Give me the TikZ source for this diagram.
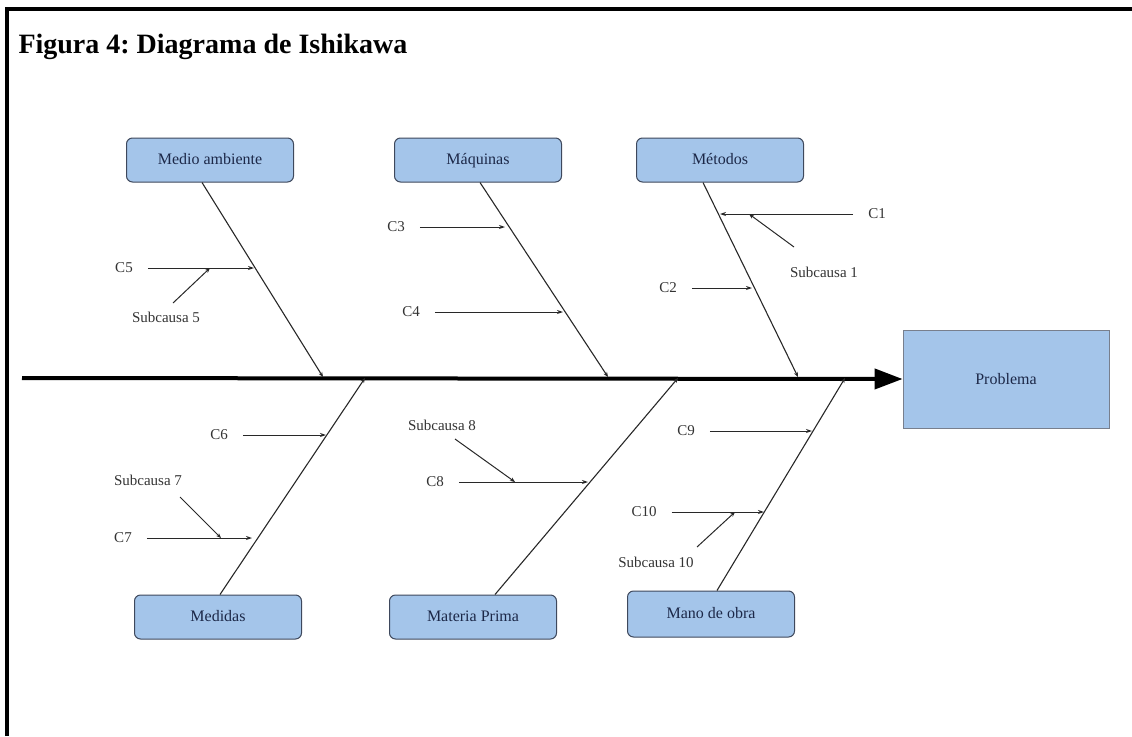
\documentclass[tikz,border=0pt]{standalone}
\usepackage{fontspec}
\setmainfont{Liberation Serif}
\usetikzlibrary{arrows.meta, calc}
\definecolor{BoxBlue}{RGB}{164, 197, 234}
\definecolor{BoxEdge}{RGB}{62, 72, 92}
\definecolor{BoxText}{RGB}{28, 40, 72}
\definecolor{LineGray}{RGB}{40, 40, 40}

\begin{document}
\begin{tikzpicture}[x=1pt, y=-1pt,
            category/.style={draw=BoxEdge, fill=BoxBlue, rounded corners=6pt, line width=1pt,
                             minimum width=167pt, minimum height=44pt, text=BoxText,
                             text height=11pt, text depth=3pt,
                             font=\fontsize{16}{19}\selectfont},
            effect/.style={draw=BoxEdge!70, fill=BoxBlue, line width=0.8pt,
                           minimum width=206pt, minimum height=98pt, text=BoxText,
                           font=\fontsize{16}{19}\selectfont},
            cname/.style={inner sep=0pt, text=black!80, font=\fontsize{15}{18}\selectfont},
            spine/.style={line width=4pt, -{Triangle[length=28pt, width=20pt]}},
            bone/.style={LineGray, line width=1.1pt, -{Stealth[length=5pt, width=4pt]}},
            cause/.style={LineGray, line width=1pt, shorten <=15pt, -{Stealth[length=6pt, width=4pt]}},
            subcause/.style={LineGray, line width=1pt, -{Stealth[length=5pt, width=4pt]}}
        ]
            \useasboundingbox (0,0) rectangle (1132,736);
            \draw[line width=4pt] (7,736) -- (7,9) -- (1132,9);

            \node[anchor=base west, font=\bfseries\fontsize{28}{32}\selectfont] (title) at (15,53)
                {\frenchspacing Figura 4: Diagrama de Ishikawa};

            \node[category] (env) at (210,160) {Medio ambiente};
            \node[category] (mach) at (478,160) {Máquinas};
            \node[category] (meth) at (720,160) {Métodos};
            \node[category] (meas) at (218,617) {Medidas};
            \node[category] (mat) at (473,617) {Materia Prima};
            \node[category, minimum height=46pt] (labor) at (711,614) {Mano de obra};
            \node[effect] (prob) at (1006,379) {Problema};

            \coordinate (tail) at (22,378);
            \coordinate (j1) at (323,377);
            \coordinate (j2) at (608,377);
            \coordinate (j3) at (798,377);
            \coordinate (j4) at (365,378);
            \coordinate (j5) at (678,378);
            \coordinate (j6) at (845,378);

            \draw[spine] (tail) -- (prob.west);

            \draw[bone] ([xshift=-8pt]env.south) -- (j1);
            \draw[bone] ([xshift=2pt]mach.south) -- (j2);
            \draw[bone] ([xshift=-17pt]meth.south) -- (j3);
            \draw[bone] ([xshift=2pt]meas.north) -- (j4);
            \draw[bone] ([xshift=22pt]mat.north) -- (j5);
            \draw[bone] ([xshift=6pt]labor.north) -- (j6);

            \coordinate (b1) at (720,214);
            \coordinate (b2) at (752,288);
            \coordinate (b3) at (505,227);
            \coordinate (b4) at (563,312);
            \coordinate (b5) at (254,268);
            \coordinate (b6) at (326,435);
            \coordinate (b7) at (252,538);
            \coordinate (b8) at (588,482);
            \coordinate (b9) at (812,431);
            \coordinate (b10) at (764,512);

            \node[cname] (c1) at (877,214) {C1};
            \node[cname] (c2) at (668,288) {C2};
            \node[cname] (c3) at (396,227) {C3};
            \node[cname] (c4) at (411,312) {C4};
            \node[cname] (c5) at (124,268) {C5};
            \node[cname] (c6) at (219,435) {C6};
            \node[cname] (c7) at (123,538) {C7};
            \node[cname] (c8) at (435,482) {C8};
            \node[cname] (c9) at (686,431) {C9};
            \node[cname] (c10) at (644,512) {C10};

            \draw[cause] (c1) -- (b1);
            \draw[cause] (c2) -- (b2);
            \draw[cause] (c3) -- (b3);
            \draw[cause] (c4) -- (b4);
            \draw[cause] (c5) -- (b5);
            \draw[cause] (c6) -- (b6);
            \draw[cause] (c7) -- (b7);
            \draw[cause] (c8) -- (b8);
            \draw[cause] (c9) -- (b9);
            \draw[cause] (c10) -- (b10);

            \node[cname] (sub1) at (824,272) {Subcausa 1};
            \node[cname] (sub5) at (166,317) {Subcausa 5};
            \node[cname] (sub7) at (148,480) {Subcausa 7};
            \node[cname] (sub8) at (442,425) {Subcausa 8};
            \node[cname] (sub10) at (656,562) {Subcausa 10};

            \coordinate (s1) at (794,247);
            \coordinate (s5) at (173,303);
            \coordinate (s7) at (180,497);
            \coordinate (s8) at (455,439);
            \coordinate (s10) at (697,547);
            \coordinate (x1) at (749,214);
            \coordinate (x5) at (210,268);
            \coordinate (x7) at (221,538);
            \coordinate (x8) at (515,482);
            \coordinate (x10) at (735,512);

            \draw[subcause] (s1) -- (x1);
            \draw[subcause] (s5) -- (x5);
            \draw[subcause] (s7) -- (x7);
            \draw[subcause] (s8) -- (x8);
            \draw[subcause] (s10) -- (x10);
        \end{tikzpicture}
\end{document}
